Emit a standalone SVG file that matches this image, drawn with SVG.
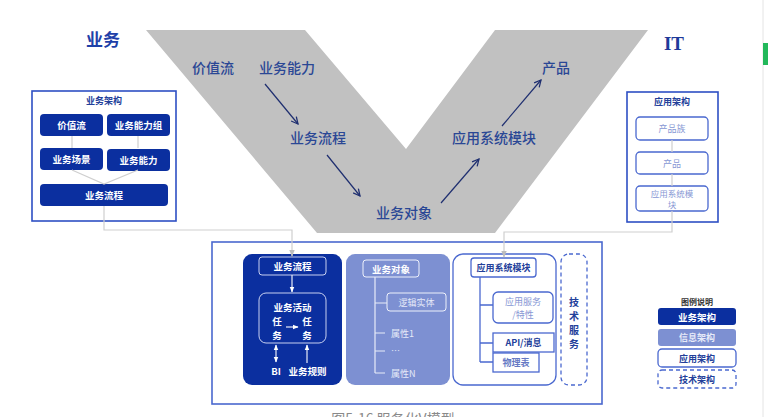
<svg xmlns="http://www.w3.org/2000/svg" width="768" height="417" viewBox="0 0 768 417">
<defs>
<style>
text{font-family:"Noto Sans CJK SC","Liberation Serif",serif;text-anchor:middle;dominant-baseline:central}
.v{font-size:14px;fill:#2a4795;font-weight:500}
.hd{font-size:17px;fill:#1e40a8;font-weight:700}
.ttl{font-size:9px;fill:#23409a;font-weight:700}
.wt{font-size:9.5px;fill:#ffffff;font-weight:700}
.lt{font-size:9px;fill:#e6eaf8}
.ab{font-size:9px;fill:#8797d4}
.db{font-size:9px;fill:#23409a;font-weight:700}
.dk{fill:#0b2f9f}
.md{fill:#7d90d2}
.ob{fill:#ffffff;stroke:#4a68cf;stroke-width:1.3}
.gl{fill:none;stroke:#cfcfcf;stroke-width:1.2}
.wl{fill:none;stroke:#e8ecf8;stroke-width:1.2}
.bl{fill:none;stroke:#4a68cf;stroke-width:1.3}
.va{fill:none;stroke:#1f2f70;stroke-width:1.2}
</style>
<marker id="va" viewBox="0 0 10 10" refX="9" refY="5" markerWidth="7" markerHeight="7" orient="auto"><path d="M1,1 L9,5 L1,9" fill="none" stroke="#1f2f70" stroke-width="1.5"/></marker>
<marker id="ga" viewBox="0 0 10 10" refX="9" refY="5" markerWidth="6" markerHeight="6" orient="auto"><path d="M0,1 L10,5 L0,9 Z" fill="#bdbdbd"/></marker>
<marker id="wa" viewBox="0 0 10 10" refX="9" refY="5" markerWidth="5" markerHeight="5" orient="auto-start-reverse"><path d="M0,1 L10,5 L0,9 Z" fill="#ffffff"/></marker>
</defs>
<rect width="768" height="417" fill="#ffffff"/>
<line x1="763" y1="0" x2="763" y2="417" stroke="#e4e4e4" stroke-width="1"/>
<rect x="763" y="43" width="5" height="22" fill="#22b85a"/>

<g id="vshape">
<polygon points="146,30 305,30 406,149 495,30 648,30 495,233 317,233" fill="#c1c1c1"/>
</g>
<text class="hd" x="103" y="38">业务</text>
<text class="hd" x="674" y="43" style="font-family:'Liberation Serif',serif;font-size:19px;fill:#1e3a9a">IT</text>

<g id="v-labels">
<text class="v" x="213" y="67">价值流</text>
<text class="v" x="287" y="67">业务能力</text>
<text class="v" x="318" y="137">业务流程</text>
<text class="v" x="404" y="212">业务对象</text>
<text class="v" x="494" y="137">应用系统模块</text>
<text class="v" x="556" y="67">产品</text>
</g>

<g id="biz-arch">
<rect x="32" y="91" width="144" height="130" class="ob" style="stroke:#2d4fc4;stroke-width:1.6"/>
<text class="ttl" x="104" y="100">业务架构</text>
<rect x="40" y="114" width="63" height="22" rx="4" class="dk"/>
<text class="wt" x="71.5" y="125">价值流</text>
<rect x="107" y="114" width="63" height="22" rx="4" class="dk"/>
<text class="wt" x="138.5" y="125">业务能力组</text>
<rect x="40" y="148" width="63" height="22" rx="4" class="dk"/>
<text class="wt" x="71.5" y="159">业务场景</text>
<rect x="107" y="149" width="63" height="22" rx="4" class="dk"/>
<text class="wt" x="138.5" y="160">业务能力</text>
<rect x="40" y="184" width="128" height="22" rx="4" class="dk"/>
<text class="wt" x="104" y="195">业务流程</text>
</g>

<g id="app-arch">
<rect x="627" y="92" width="91" height="130" class="ob" style="stroke:#2d4fc4;stroke-width:1.6"/>
<text class="ttl" x="672" y="101">应用架构</text>
<rect x="636" y="117" width="72" height="23" rx="4" class="ob"/>
<text class="ab" x="672" y="128.5">产品族</text>
<rect x="636" y="152" width="72" height="22" rx="4" class="ob"/>
<text class="ab" x="672" y="163">产品</text>
<rect x="636" y="186" width="72" height="25" rx="4" class="ob"/>
<text class="ab" x="672" y="192.5" style="font-size:8.5px">应用系统模</text>
<text class="ab" x="672" y="204" style="font-size:8.5px">块</text>
</g>

<g id="overview">
<rect x="212" y="242" width="390" height="162" class="ob" style="stroke:#4a68cf;stroke-width:1.6"/>
</g>

<g id="biz-panel">
<rect x="243" y="254" width="99" height="131" rx="9" class="dk"/>
<rect x="259" y="257" width="67" height="18" rx="3" fill="none" stroke="#c8d0f0" stroke-width="1"/>
<text class="wt" x="292.5" y="266">业务流程</text>
<rect x="259" y="293" width="67" height="50" rx="7" fill="none" stroke="#c8d0f0" stroke-width="1"/>
<text class="wt" x="292.5" y="307">业务活动</text>
<text class="wt" x="277" y="321">任</text>
<text class="wt" x="277" y="335">务</text>
<text class="wt" x="307" y="321">任</text>
<text class="wt" x="307" y="335">务</text>
<text class="wt" x="276" y="371">BI</text>
<text class="wt" x="307.5" y="371">业务规则</text>
</g>

<g id="info-panel">
<rect x="346" y="254" width="104" height="131" rx="9" class="md"/>
<rect x="363" y="260" width="56" height="17" rx="3" fill="none" stroke="#eef1fb" stroke-width="1"/>
<text class="wt" x="391" y="268.5">业务对象</text>
<rect x="387" y="293" width="59" height="18" rx="3" fill="none" stroke="#eef1fb" stroke-width="1"/>
<text class="lt" x="416.5" y="302">逻辑实体</text>
<text class="lt" x="391" y="333" style="text-anchor:start">属性1</text>
<text class="lt" x="391" y="350" style="text-anchor:start">…</text>
<text class="lt" x="391" y="373" style="text-anchor:start">属性N</text>
</g>

<g id="app-panel">
<rect x="453" y="254" width="103" height="131" rx="10" class="ob"/>
<rect x="471" y="258" width="65" height="19" rx="3" class="ob"/>
<text class="db" x="503.5" y="267.5">应用系统模块</text>
<rect x="493" y="292" width="60" height="31" rx="5" class="ob"/>
<text class="ab" x="523" y="301">应用服务</text>
<text class="ab" x="523" y="314">/特性</text>
<rect x="493" y="333" width="61" height="19" class="ob"/>
<text class="db" x="523.5" y="342.5">API/消息</text>
<rect x="493" y="353" width="46" height="19" class="ob"/>
<text class="db" x="516" y="362.5" style="fill:#6478c4">物理表</text>
</g>

<g id="tech-panel">
<rect x="561" y="254" width="26" height="131" rx="8" fill="none" stroke="#4a68cf" stroke-width="1.3" stroke-dasharray="4,3"/>
<text class="db" x="574" y="301" style="font-size:10px">技</text>
<text class="db" x="574" y="315" style="font-size:10px">术</text>
<text class="db" x="574" y="329" style="font-size:10px">服</text>
<text class="db" x="574" y="343" style="font-size:10px">务</text>
</g>

<g id="legend">
<text x="697" y="301" style="font-size:8px;fill:#333;font-weight:700">图例说明</text>
<rect x="658" y="308" width="78" height="17" rx="3" class="dk"/>
<text class="wt" x="697" y="316.5">业务架构</text>
<rect x="658" y="329" width="78" height="17" rx="3" class="md"/>
<text class="lt" x="697" y="337.5" style="font-weight:700">信息架构</text>
<rect x="658" y="349" width="78" height="18" rx="4" class="ob"/>
<text class="db" x="697" y="358">应用架构</text>
<rect x="658" y="370" width="78" height="18" rx="4" fill="none" stroke="#4a68cf" stroke-width="1.3" stroke-dasharray="4,3"/>
<text class="db" x="697" y="379">技术架构</text>
</g>

<g id="connectors">
<line class="va" x1="265" y1="84" x2="298" y2="124" marker-end="url(#va)"/>
<line class="va" x1="327" y1="155" x2="360" y2="196" marker-end="url(#va)"/>
<line class="va" x1="441" y1="203" x2="479" y2="159" marker-end="url(#va)"/>
<line class="va" x1="502" y1="126" x2="541" y2="80" marker-end="url(#va)"/>
<path class="gl" d="M72,136 V148 M138,136 V148 M72,170 L104,184 L138,170"/>
<path class="gl" d="M104,206 V230 H292 V256" marker-end="url(#ga)"/>
<path class="gl" d="M672,140 V152 M672,174 V186 M672,211 V232 H504 V257" marker-end="url(#ga)"/>
<path class="wl" d="M292,275 V292" marker-end="url(#wa)"/>
<path class="wl" d="M286,327 H298" marker-end="url(#wa)"/>
<path class="wl" d="M276,345 V362" marker-start="url(#wa)" marker-end="url(#wa)"/>
<path class="wl" d="M307,363 V345" marker-end="url(#wa)"/>
<path class="wl" d="M375,277 V373 M375,303 H387 M375,333 H385 M375,351 H385 M375,373 H385"/>
<path class="bl" d="M480,277 V362 M480,305 H493 M480,343 H493 M480,362 H493"/>
</g>

<text x="393" y="424" style="font-size:14px;fill:#8a8a8a;dominant-baseline:alphabetic">图5-16 服务化V模型</text>
</svg>
